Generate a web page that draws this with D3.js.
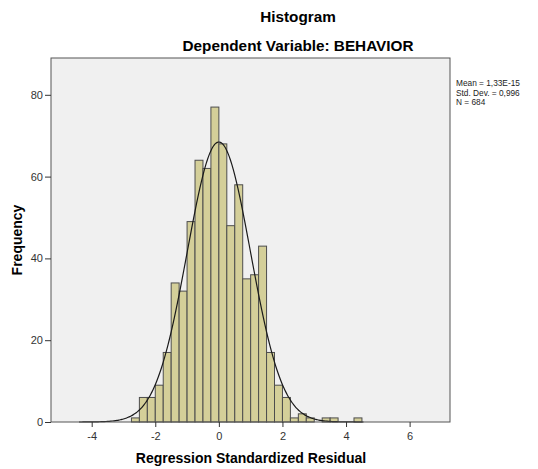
<!DOCTYPE html>
<html>
<head>
<meta charset="utf-8">
<script src="https://cdn.jsdelivr.net/npm/d3@7"></script>
<style>
	body{margin:0;background:#fff;}
	svg{display:block;font-family:"Liberation Sans",Arial,sans-serif;}
	.axis text{font-size:11px;fill:#333;}
	.axis path,.axis line{stroke:#333;}
</style>
</head>
<body>
<div id="chart"></div>
<script>
//data
const binLow = [-2.75,-2.5,-2.25,-2,-1.75,-1.5,-1.25,-1,-0.75,-0.5,-0.25,0,0.25,0.5,0.75,1,1.25,1.5,1.75,2,2.25,2.5,2.75,3,3.25,3.5,3.75,4,4.25];
const counts = [1,6,6,9,17,34,32,49,64,62,77,68,48,58,35,36,43,17,9,6,1,2,1,0,1,1,0,0,1];
const binWidth = 0.25;
const ticksX = [-4,-2,0,2,4,6];
const ticksY = [0,20,40,60,80];
const stats = {mean:1.33e-15, sd:0.996, n:684};
const statLines = ['Mean = 1,33E-15','Std. Dev. = 0,996','N = 684'];

const width = 538, height = 469;
const margin = {t:58,r:88,b:47,l:51};
const w = width - margin.l - margin.r;
const h = height - margin.t - margin.b;

const svg = d3.select('#chart').append('svg')
	.attr('width',width)
	.attr('height',height);

//titles
svg.append('text')
	.attr('x',298).attr('y',22)
	.attr('text-anchor','middle')
	.style('font-size','15.3px').style('font-weight','bold')
	.text('Histogram');
svg.append('text')
	.attr('x',298).attr('y',51)
	.attr('text-anchor','middle')
	.style('font-size','15.3px').style('font-weight','bold')
	.text('Dependent Variable: BEHAVIOR');

const plot = svg.append('g')
	.attr('transform',`translate(${margin.l},${margin.t})`);

const scaleX = d3.scaleLinear().domain([-5.28,7.27]).range([0,w]);
const scaleY = d3.scaleLinear().domain([0,89]).range([h,0]);

//background
plot.append('rect')
	.attr('width',w).attr('height',h)
	.style('fill','#f0f0f0');

//bars
plot.selectAll('.bin')
	.data(counts.map((c,i) => ({x0:binLow[i], x1:binLow[i]+binWidth, volume:c})).filter(d => d.volume > 0))
	.enter()
	.append('rect')
	.attr('class','bin')
	.attr('x', d => scaleX(d.x0))
	.attr('width', d => scaleX(d.x1) - scaleX(d.x0))
	.attr('y', d => scaleY(d.volume))
	.attr('height', d => h - scaleY(d.volume))
	.style('fill','#d4cf99')
	.style('stroke','#4d4d4d')
	.style('stroke-width',1);

//normal curve from the stated mean / sd
const k = stats.n*binWidth/(stats.sd*Math.sqrt(2*Math.PI));
const curvePts = d3.range(-4.4,4.6,0.05).map(x => [x, k*Math.exp(-0.5*Math.pow((x-stats.mean)/stats.sd,2))]);
plot.append('path')
	.datum(curvePts)
	.attr('d', d3.line().x(d => scaleX(d[0])).y(d => scaleY(d[1])).curve(d3.curveBasis))
	.style('fill','none')
	.style('stroke','#1a1a1a')
	.style('stroke-width',1.2);

//frame
plot.append('rect')
	.attr('width',w).attr('height',h)
	.style('fill','none')
	.style('stroke','#555');

//axes
plot.append('g')
	.attr('class','axis axis-x')
	.attr('transform',`translate(0,${h})`)
	.call(d3.axisBottom(scaleX).tickValues(ticksX).tickFormat(d => String(d)).tickSize(5).tickPadding(5).tickSizeOuter(0))
	.call(g => g.select('.domain').remove());
plot.append('g')
	.attr('class','axis axis-y')
	.call(d3.axisLeft(scaleY).tickValues(ticksY).tickFormat(d => String(d)).tickSize(6).tickPadding(2).tickSizeOuter(0))
	.call(g => g.select('.domain').remove());

//axis titles
svg.append('text')
	.attr('x',251).attr('y',463)
	.attr('text-anchor','middle')
	.style('font-size','14px').style('font-weight','bold')
	.text('Regression Standardized Residual');
svg.append('text')
	.attr('transform','translate(22,240) rotate(-90)')
	.attr('text-anchor','middle')
	.style('font-size','14px').style('font-weight','bold')
	.text('Frequency');

//stats box
svg.append('g')
	.selectAll('text')
	.data(statLines)
	.enter()
	.append('text')
	.attr('x',456)
	.attr('y',(d,i) => 86 + i*9.6)
	.style('font-size','8.3px')
	.style('fill','#222')
	.text(d => d);
</script>
</body>
</html>
